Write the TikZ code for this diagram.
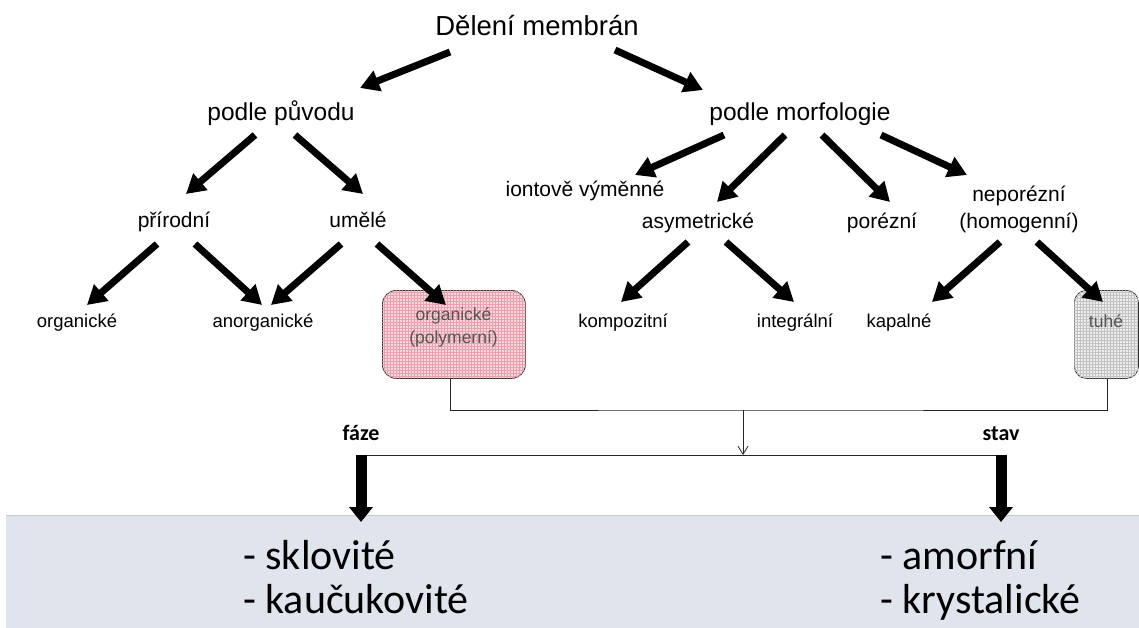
\documentclass[tikz,border=0pt]{standalone}
\usepackage{fontspec}
\setmainfont{Liberation Sans}
\newfontfamily\calibri{Carlito}
\usetikzlibrary{arrows.meta,patterns,calc}
\definecolor{bandc}{RGB}{224,228,237}
\definecolor{bandline}{RGB}{196,200,208}
\definecolor{pinkfill}{RGB}{248,214,219}
\definecolor{pinkgrid}{RGB}{232,160,172}
\definecolor{greyfill}{RGB}{236,236,236}
\definecolor{greygrid}{RGB}{195,195,195}
\definecolor{boxtext}{RGB}{85,85,85}
\begin{document}
\begin{tikzpicture}[x=1pt,y=-1pt,
  txt/.style={inner sep=0pt, anchor=base, align=center},
  fA/.style={font=\fontsize{27.5}{32}\selectfont},
  fB/.style={font=\fontsize{24.5}{29}\selectfont},
  fC/.style={font=\fontsize{21}{27}\selectfont},
  fD/.style={font=\fontsize{18.5}{23}\selectfont},
  bigarrow/.style={line width=7pt, -{Triangle[length=19pt,width=21pt]}},
  boxbase/.style={draw=black!80, line width=0.8pt, rounded corners=14pt, inner sep=0pt},
  bottomtxt/.style={inner sep=0pt, anchor=base west, font=\calibri\fontsize{42}{46}\selectfont},
  lbl/.style={inner sep=0pt, anchor=base, font=\calibri\bfseries\fontsize{22}{26}\selectfont},
  thinline/.style={line width=0.8pt, draw=black!85},
  downarrow/.style={line width=11pt, -{Triangle[length=15pt,width=23pt]}}
]
\useasboundingbox (0,0) rectangle (1139,628);
% band
\node[fill=bandc, inner sep=0pt, minimum width=1133, minimum height=113, anchor=north west] (band) at (6,515) {};
\draw[bandline, line width=1pt] (band.north west) -- (band.north east);

% nodes
\node[txt,fA] (title) at (537,36) {Dělení membrán};
\node[txt,fB] (pp) at (281,121) {podle původu};
\node[txt,fB] (pm) at (800,121) {podle morfologie};
\node[txt,fC] (pri) at (174,228) {přírodní};
\node[txt,fC] (ume) at (358,228) {umělé};
\node[txt,fD] (org) at (77,327) {organické};
\node[txt,fD] (anorg) at (263,327) {anorganické};
\node[boxbase, fill=pinkfill, postaction={pattern=grid, pattern color=pinkgrid},
      minimum width=143, minimum height=88, anchor=north west] (box1) at (382,290) {};
\node[txt, text=boxtext, font=\fontsize{17.5}{22.5}\selectfont] (box1t) at (453.5,343) {organické\\(polymerní)};
\node[txt,fC] (ion) at (585,197) {iontově výměnné};
\node[txt,fC] (asym) at (698,229) {asymetrické};
\node[txt,fC] (por) at (882,229) {porézní};
\node[txt,fC] (nepor) at (1019,229) {neporézní\\(homogenní)};
\node[txt,fD] (komp) at (623,327) {kompozitní};
\node[txt,fD] (integ) at (795,327) {integrální};
\node[txt,fD] (kap) at (899,327) {kapalné};
\node[boxbase, fill=greyfill, postaction={pattern=grid, pattern color=greygrid},
      minimum width=64, minimum height=88, rounded corners=12pt, anchor=north west] (box2) at (1074,290) {};
\node[txt, text=boxtext, font=\fontsize{17.5}{22}\selectfont] (box2t) at (1106,327) {tuhé};
\node[lbl] (faze) at (361,440) {fáze};
\node[lbl] (stav) at (1001,440) {stav};
\node[bottomtxt] (s1) at (243,569) {- sklovité};
\node[bottomtxt] (s2) at (243,613) {- kaučukovité};
\node[bottomtxt] (a1) at (880,569) {- amorfní};
\node[bottomtxt] (a2) at (880,613) {- krystalické};

% big arrows (offsets relative to the node base points)
\draw[bigarrow] ([shift={(-87,16)}]title.base) -- ([shift={(79,-33)}]pp.base);
\draw[bigarrow] ([shift={(78,14)}]title.base) -- ([shift={(-97,-31)}]pm.base);
\draw[bigarrow] ([shift={(-26,14)}]pp.base) -- ([shift={(12,-34)}]pri.base);
\draw[bigarrow] ([shift={(14,14)}]pp.base) -- ([shift={(5,-34)}]ume.base);
\draw[bigarrow] ([shift={(-17,16)}]pri.base) -- ([shift={(10,-22)}]org.base);
\draw[bigarrow] ([shift={(21,16)}]pri.base) -- ([shift={(-1,-22)}]anorg.base);
\draw[bigarrow] ([shift={(-17,16)}]ume.base) -- ([shift={(8,-22)}]anorg.base);
\draw[bigarrow] ([shift={(19,16)}]ume.base) -- ([shift={(64,15)}]box1.north west);
\draw[bigarrow] ([shift={(-76,14)}]pm.base) -- ([shift={(50,-22)}]ion.base);
\draw[bigarrow] ([shift={(-15,14)}]pm.base) -- ([shift={(19,-27)}]asym.base);
\draw[bigarrow] ([shift={(22,14)}]pm.base) -- ([shift={(8,-27)}]por.base);
\draw[bigarrow] ([shift={(81,14)}]pm.base) -- ([shift={(-52,-54)}]nepor.base);
\draw[bigarrow] ([shift={(-10,13)}]asym.base) -- ([shift={(-2,-25)}]komp.base);
\draw[bigarrow] ([shift={(28,13)}]asym.base) -- ([shift={(-1,-25)}]integ.base);
\draw[bigarrow] ([shift={(-19,13)}]nepor.base) -- ([shift={(33,-25)}]kap.base);
\draw[bigarrow] ([shift={(18,13)}]nepor.base) -- ([shift={(29,12)}]box2.north west);

% thin connectors
\coordinate (join) at (743,410);
\coordinate (split) at (743,455);
\draw[thinline] ([xshift=-3.5]box1.south) |- (join) -| ([xshift=1]box2.south);
\draw[thinline, -{Straight Barb[length=8pt,width=10pt]}] (join) -- (split);
\draw[thinline] ([shift={(0,15)}]faze.base) -- ([shift={(0,15)}]stav.base);
\draw[downarrow] ([shift={(0,14.6)}]faze.base) -- ([shift={(0,7)}]band.north -| faze.base);
\draw[downarrow] ([shift={(0,14.6)}]stav.base) -- ([shift={(0,7)}]band.north -| stav.base);
\end{tikzpicture}
\end{document}
